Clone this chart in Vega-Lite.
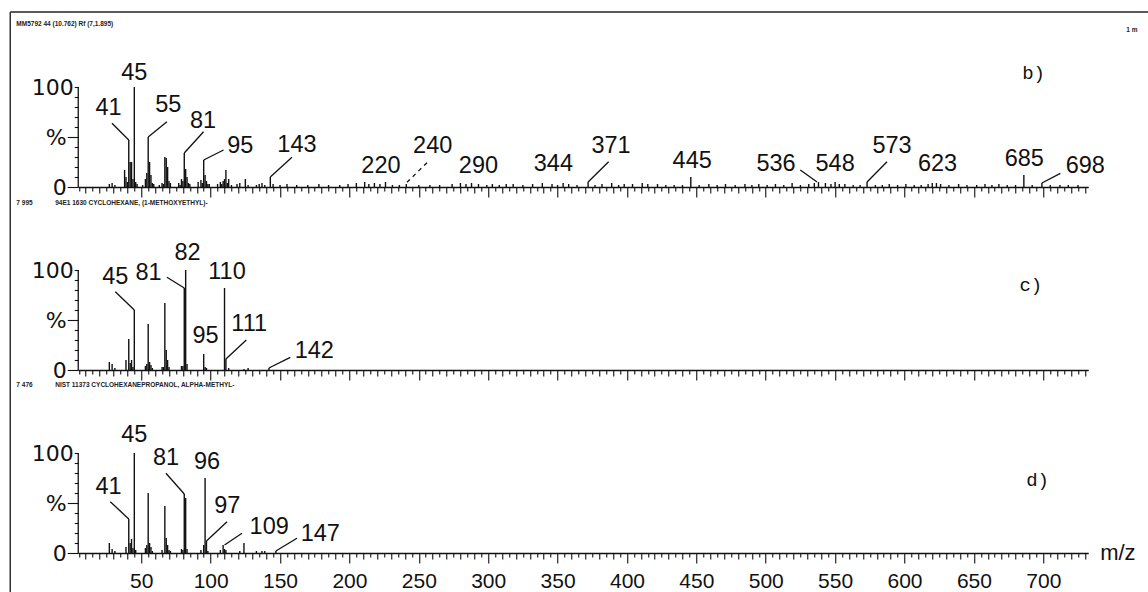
{
"$schema": "https://vega.github.io/schema/vega-lite/v6.json",
"background": "white",
"padding": {"left": 9.25, "top": 4, "right": 0, "bottom": 0},
"spacing": 0,
"bounds": "flush",
"config": {"view": {"stroke": null}, "font": "Liberation Sans"},
"datasets": {
"peaks": [
{"p":"b","x":27,"y":3},{"p":"b","x":29,"y":4},{"p":"b","x":31,"y":2},{"p":"b","x":38,"y":17},{"p":"b","x":39,"y":10},{"p":"b","x":40,"y":5},{"p":"b","x":41,"y":47},{"p":"b","x":42,"y":25},{"p":"b","x":43,"y":25},{"p":"b","x":44,"y":8},{"p":"b","x":45,"y":100},{"p":"b","x":46,"y":5},{"p":"b","x":47,"y":3},{"p":"b","x":51,"y":2},{"p":"b","x":53,"y":8},{"p":"b","x":54,"y":14},{"p":"b","x":55,"y":50},{"p":"b","x":56,"y":25},{"p":"b","x":57,"y":12},{"p":"b","x":58,"y":4},{"p":"b","x":59,"y":3},{"p":"b","x":63,"y":2},{"p":"b","x":65,"y":4},{"p":"b","x":66,"y":3},{"p":"b","x":67,"y":30},{"p":"b","x":68,"y":29},{"p":"b","x":69,"y":20},{"p":"b","x":70,"y":6},{"p":"b","x":71,"y":4},{"p":"b","x":77,"y":4},{"p":"b","x":78,"y":2},{"p":"b","x":79,"y":8},{"p":"b","x":80,"y":6},{"p":"b","x":81,"y":34},{"p":"b","x":82,"y":18},{"p":"b","x":83,"y":10},{"p":"b","x":84,"y":4},{"p":"b","x":85,"y":3},{"p":"b","x":91,"y":5},{"p":"b","x":93,"y":7},{"p":"b","x":94,"y":4},{"p":"b","x":95,"y":27},{"p":"b","x":96,"y":12},{"p":"b","x":97,"y":6},{"p":"b","x":98,"y":3},{"p":"b","x":99,"y":3},{"p":"b","x":105,"y":3},{"p":"b","x":107,"y":5},{"p":"b","x":108,"y":3},{"p":"b","x":109,"y":6},{"p":"b","x":110,"y":8},{"p":"b","x":111,"y":17},{"p":"b","x":112,"y":4},{"p":"b","x":113,"y":8},{"p":"b","x":115,"y":2},{"p":"b","x":119,"y":3},{"p":"b","x":121,"y":4},{"p":"b","x":125,"y":8},{"p":"b","x":127,"y":2},{"p":"b","x":133,"y":2},{"p":"b","x":135,"y":3},{"p":"b","x":137,"y":4},{"p":"b","x":139,"y":2},{"p":"b","x":143,"y":10},{"p":"b","x":145,"y":3},
{"p":"b","x":150,"y":2},{"p":"b","x":155,"y":3},{"p":"b","x":162,"y":2},{"p":"b","x":170,"y":2},{"p":"b","x":178,"y":3},{"p":"b","x":185,"y":2},{"p":"b","x":193,"y":2},{"p":"b","x":199,"y":3},{"p":"b","x":205,"y":4},{"p":"b","x":211,"y":5},{"p":"b","x":214,"y":3},{"p":"b","x":218,"y":4},{"p":"b","x":222,"y":3},{"p":"b","x":226,"y":5},{"p":"b","x":231,"y":2},{"p":"b","x":236,"y":2},{"p":"b","x":241,"y":3},{"p":"b","x":250,"y":2},{"p":"b","x":258,"y":2},{"p":"b","x":265,"y":2},{"p":"b","x":274,"y":3},{"p":"b","x":280,"y":4},{"p":"b","x":284,"y":3},{"p":"b","x":288,"y":4},{"p":"b","x":293,"y":3},{"p":"b","x":299,"y":2},{"p":"b","x":303,"y":3},{"p":"b","x":308,"y":2},{"p":"b","x":313,"y":3},{"p":"b","x":318,"y":3},{"p":"b","x":325,"y":2},{"p":"b","x":332,"y":3},{"p":"b","x":339,"y":4},{"p":"b","x":346,"y":3},{"p":"b","x":350,"y":2},{"p":"b","x":354,"y":4},{"p":"b","x":358,"y":3},{"p":"b","x":364,"y":2},{"p":"b","x":372,"y":5},{"p":"b","x":377,"y":2},{"p":"b","x":382,"y":3},{"p":"b","x":389,"y":4},{"p":"b","x":394,"y":2},{"p":"b","x":398,"y":3},{"p":"b","x":404,"y":3},{"p":"b","x":411,"y":4},{"p":"b","x":415,"y":3},{"p":"b","x":422,"y":3},{"p":"b","x":428,"y":2},{"p":"b","x":434,"y":2},{"p":"b","x":440,"y":2},{"p":"b","x":446,"y":10},{"p":"b","x":452,"y":2},{"p":"b","x":459,"y":3},{"p":"b","x":465,"y":2},{"p":"b","x":471,"y":3},{"p":"b","x":478,"y":2},{"p":"b","x":485,"y":3},{"p":"b","x":490,"y":2},{"p":"b","x":495,"y":3},{"p":"b","x":501,"y":2},{"p":"b","x":507,"y":3},{"p":"b","x":513,"y":2},{"p":"b","x":519,"y":4},{"p":"b","x":525,"y":2},{"p":"b","x":531,"y":3},{"p":"b","x":535,"y":4},{"p":"b","x":538,"y":5},{"p":"b","x":543,"y":4},{"p":"b","x":547,"y":3},{"p":"b","x":550,"y":5},{"p":"b","x":553,"y":3},{"p":"b","x":557,"y":3},{"p":"b","x":563,"y":2},{"p":"b","x":568,"y":2},{"p":"b","x":573,"y":5},{"p":"b","x":579,"y":2},{"p":"b","x":584,"y":2},{"p":"b","x":589,"y":3},{"p":"b","x":595,"y":2},{"p":"b","x":601,"y":3},{"p":"b","x":607,"y":2},{"p":"b","x":612,"y":2},{"p":"b","x":617,"y":3},{"p":"b","x":620,"y":4},{"p":"b","x":623,"y":4},{"p":"b","x":626,"y":3},{"p":"b","x":632,"y":2},{"p":"b","x":639,"y":3},{"p":"b","x":645,"y":2},{"p":"b","x":652,"y":2},{"p":"b","x":658,"y":3},{"p":"b","x":663,"y":2},{"p":"b","x":668,"y":3},{"p":"b","x":674,"y":2},{"p":"b","x":680,"y":2},{"p":"b","x":686,"y":12},{"p":"b","x":692,"y":2},{"p":"b","x":699,"y":4},{"p":"b","x":705,"y":2},{"p":"b","x":712,"y":2},{"p":"b","x":718,"y":2},{"p":"b","x":725,"y":2},
{"p":"c","x":27,"y":8},{"p":"c","x":29,"y":6},{"p":"c","x":31,"y":2},{"p":"c","x":39,"y":10},{"p":"c","x":41,"y":31},{"p":"c","x":42,"y":7},{"p":"c","x":43,"y":10},{"p":"c","x":44,"y":3},{"p":"c","x":45,"y":60},{"p":"c","x":53,"y":4},{"p":"c","x":54,"y":6},{"p":"c","x":55,"y":46},{"p":"c","x":56,"y":8},{"p":"c","x":57,"y":5},{"p":"c","x":58,"y":2},{"p":"c","x":65,"y":3},{"p":"c","x":66,"y":3},{"p":"c","x":67,"y":67},{"p":"c","x":68,"y":20},{"p":"c","x":69,"y":10},{"p":"c","x":70,"y":3},{"p":"c","x":79,"y":4},{"p":"c","x":80,"y":4},{"p":"c","x":81,"y":82},{"p":"c","x":82,"y":100},{"p":"c","x":83,"y":6},{"p":"c","x":95,"y":16},{"p":"c","x":96,"y":3},{"p":"c","x":97,"y":2},{"p":"c","x":110,"y":82},{"p":"c","x":111,"y":11},{"p":"c","x":113,"y":2},{"p":"c","x":124,"y":1},{"p":"c","x":127,"y":2},{"p":"c","x":142,"y":2},
{"p":"d","x":27,"y":10},{"p":"d","x":29,"y":4},{"p":"d","x":31,"y":2},{"p":"d","x":39,"y":6},{"p":"d","x":41,"y":34},{"p":"d","x":42,"y":10},{"p":"d","x":43,"y":14},{"p":"d","x":44,"y":5},{"p":"d","x":45,"y":100},{"p":"d","x":46,"y":3},{"p":"d","x":53,"y":5},{"p":"d","x":54,"y":8},{"p":"d","x":55,"y":60},{"p":"d","x":56,"y":10},{"p":"d","x":57,"y":6},{"p":"d","x":58,"y":2},{"p":"d","x":65,"y":3},{"p":"d","x":67,"y":47},{"p":"d","x":68,"y":15},{"p":"d","x":69,"y":8},{"p":"d","x":70,"y":3},{"p":"d","x":71,"y":2},{"p":"d","x":79,"y":4},{"p":"d","x":80,"y":3},{"p":"d","x":81,"y":59},{"p":"d","x":82,"y":55},{"p":"d","x":83,"y":4},{"p":"d","x":93,"y":3},{"p":"d","x":95,"y":8},{"p":"d","x":96,"y":75},{"p":"d","x":97,"y":12},{"p":"d","x":98,"y":2},{"p":"d","x":107,"y":3},{"p":"d","x":109,"y":8},{"p":"d","x":110,"y":4},{"p":"d","x":111,"y":3},{"p":"d","x":121,"y":2},{"p":"d","x":124,"y":10},{"p":"d","x":133,"y":2},{"p":"d","x":137,"y":2},{"p":"d","x":139,"y":2},{"p":"d","x":147,"y":2}
],
"labels": [
{"p":"b","x":45,"y":113.7,"t":"45"},{"p":"b","x":26.4,"y":78.7,"t":"41"},{"p":"b","x":69.5,"y":82,"t":"55"},{"p":"b","x":94.5,"y":66.3,"t":"81"},{"p":"b","x":121.4,"y":41.3,"t":"95"},{"p":"b","x":162.2,"y":42,"t":"143"},{"p":"b","x":222.7,"y":21.3,"t":"220"},{"p":"b","x":260,"y":41.3,"t":"240"},{"p":"b","x":293,"y":21.3,"t":"290"},{"p":"b","x":347,"y":23,"t":"344"},{"p":"b","x":388.5,"y":41.3,"t":"371"},{"p":"b","x":447,"y":26.3,"t":"445"},{"p":"b","x":507.4,"y":23,"t":"536"},{"p":"b","x":550,"y":23,"t":"548"},{"p":"b","x":591,"y":41.3,"t":"573"},{"p":"b","x":623.8,"y":23,"t":"623"},{"p":"b","x":686.3,"y":28,"t":"685"},{"p":"b","x":730.3,"y":21.3,"t":"698"},
{"p":"c","x":31.3,"y":93.3,"t":"45"},{"p":"c","x":55.3,"y":96.7,"t":"81"},{"p":"c","x":83.4,"y":116.7,"t":"82"},{"p":"c","x":111.8,"y":97.7,"t":"110"},{"p":"c","x":96.3,"y":34.3,"t":"95"},{"p":"c","x":127.8,"y":46,"t":"111"},{"p":"c","x":174.7,"y":19.3,"t":"142"},
{"p":"d","x":45,"y":117.7,"t":"45"},{"p":"d","x":26.4,"y":66,"t":"41"},{"p":"d","x":67.8,"y":94.7,"t":"81"},{"p":"d","x":97.4,"y":91.3,"t":"96"},{"p":"d","x":112,"y":47.3,"t":"97"},{"p":"d","x":142.2,"y":25.7,"t":"109"},{"p":"d","x":179,"y":19,"t":"147"}
],
"leaders": [
{"p":"b","t":"41","x":28.9,"y":63.7,"x2":41,"y2":47},{"p":"b","t":"55","x":68.5,"y":65.3,"x2":55,"y2":50},{"p":"b","t":"81","x":94.9,"y":55.3,"x2":81,"y2":34},{"p":"b","t":"95","x":109.3,"y":37,"x2":95,"y2":27},{"p":"b","t":"143","x":158.6,"y":29.7,"x2":143,"y2":10},{"p":"b","t":"240","x":255.9,"y":24.3,"x2":241,"y2":4},{"p":"b","t":"371","x":386.8,"y":25.3,"x2":372,"y2":5},{"p":"b","t":"536","x":524.9,"y":17,"x2":537,"y2":5},{"p":"b","t":"573","x":587.4,"y":25.3,"x2":573,"y2":5},{"p":"b","t":"698","x":712.3,"y":13.7,"x2":699,"y2":4},
{"p":"c","t":"45","x":31.3,"y":78.3,"x2":45,"y2":60},{"p":"c","t":"81","x":68.5,"y":92.7,"x2":81,"y2":82},{"p":"c","t":"111","x":125.7,"y":30,"x2":111,"y2":11},{"p":"c","t":"142","x":157.4,"y":12.7,"x2":142,"y2":2},
{"p":"d","t":"41","x":27.7,"y":51.3,"x2":41,"y2":34},{"p":"d","t":"81","x":67.8,"y":79.7,"x2":81,"y2":59},{"p":"d","t":"97","x":111.8,"y":31.3,"x2":97,"y2":12},{"p":"d","t":"109","x":122.6,"y":19.7,"x2":110,"y2":8},{"p":"d","t":"147","x":162.2,"y":14.7,"x2":147,"y2":2}
],
"headers": [
{"p":"b","x":-40,"y":163,"t":"MM5792 44 (10.762) Rf (7,1.895)"},{"p":"b","x":759.8,"y":157,"t":"1 m"},
{"p":"c","x":-40,"y":167,"t":"7 995"},{"p":"c","x":-12,"y":167,"t":"94E1 1630 CYCLOHEXANE, (1-METHOXYETHYL)-"},
{"p":"d","x":-40,"y":168,"t":"7 476"},{"p":"d","x":-12,"y":168,"t":"NIST 11373 CYCLOHEXANEPROPANOL, ALPHA-METHYL-"}
],
"tags": [
{"p":"b","x":693,"y":113.7,"t":"b)"},{"p":"c","x":691,"y":85,"t":"c)"},{"p":"d","x":695.9,"y":73,"t":"d)"}
]
},
"vconcat": [
{
"width": 1010, "height": 183,
"resolve": {"axis": {"x": "independent", "y": "independent"}},
"layer": [
{"data": {"name": "peaks"}, "transform": [{"filter": "datum.p == 'b'"}],
 "mark": {"type": "rule", "color": "#111", "strokeWidth": 1.4},
 "encoding": {
  "x": {"field": "x", "type": "quantitative", "scale": {"domain": [4.6, 732.4], "nice": false, "zero": false},
   "axis": {"orient": "bottom", "values": [5,10,15,20,25,30,35,40,45,50,55,60,65,70,75,80,85,90,95,100,105,110,115,120,125,130,135,140,145,150,155,160,165,170,175,180,185,190,195,200,205,210,215,220,225,230,235,240,245,250,255,260,265,270,275,280,285,290,295,300,305,310,315,320,325,330,335,340,345,350,355,360,365,370,375,380,385,390,395,400,405,410,415,420,425,430,435,440,445,450,455,460,465,470,475,480,485,490,495,500,505,510,515,520,525,530,535,540,545,550,555,560,565,570,575,580,585,590,595,600,605,610,615,620,625,630,635,640,645,650,655,660,665,670,675,680,685,690,695,700,705,710,715,720,725,730],
    "labels": false, "title": null, "grid": false, "domainColor": "#111", "domainWidth": 1.3, "tickColor": "#111", "tickWidth": 1.1,
    "tickSize": {"condition": [{"test": "datum.value % 50 == 0", "value": 10}, {"test": "datum.value % 10 == 0", "value": 6}], "value": 4}}},
  "y": {"field": "y", "type": "quantitative", "scale": {"domain": [0, 183], "nice": false, "zero": false}, "axis": null},
  "y2": {"datum": 0}
 }},
{"data": {"values": [{}]},
 "mark": {"type": "rule", "color": "#111", "strokeWidth": 1.3},
 "encoding": {
  "x": {"datum": 4.6, "type": "quantitative", "scale": {"domain": [4.6, 732.4], "nice": false, "zero": false}, "axis": null},
  "y": {"datum": 0, "type": "quantitative", "scale": {"domain": [0, 183], "nice": false, "zero": false},
   "axis": {"orient": "left", "values": [0,10,20,30,40,50,60,70,80,90,100], "domain": false, "grid": false, "title": null,
    "labelExpr": "datum.value == 50 ? '%' : (datum.value == 0 || datum.value == 100) ? datum.label : ''",
    "labelFont": "DejaVu Sans", "labelFontSize": 22, "labelColor": "#111", "labelPadding": 1, "labelOverlap": false, "labelFlush": false,
    "tickColor": "#111", "tickWidth": 1.1,
    "tickSize": {"condition": {"test": "datum.value == 0 || datum.value == 50", "value": 11}, "value": 4}}},
  "y2": {"datum": 100}
 }},
{"data": {"values": [{}]},
 "mark": {"type": "rule", "color": "#222", "strokeWidth": 1.5, "clip": false},
 "encoding": {
  "x": {"datum": -44.4, "type": "quantitative", "scale": {"domain": [4.6, 732.4], "nice": false, "zero": false}, "axis": null},
  "x2": {"datum": 800},
  "y": {"datum": 175, "type": "quantitative", "scale": {"domain": [0, 183], "nice": false, "zero": false}, "axis": null}
 }},
{"data": {"values": [{}]},
 "mark": {"type": "rule", "color": "#333", "strokeWidth": 1.5, "clip": false},
 "encoding": {
  "x": {"datum": -44.4, "type": "quantitative", "scale": {"domain": [4.6, 732.4], "nice": false, "zero": false}, "axis": null},
  "y": {"datum": 175, "type": "quantitative", "scale": {"domain": [0, 183], "nice": false, "zero": false}, "axis": null},
  "y2": {"datum": 0}
 }},
{"data": {"name": "leaders"}, "transform": [{"filter": "datum.p == 'b' && datum.t != '240'"}],
 "mark": {"type": "rule", "color": "#111", "strokeWidth": 1.3},
 "encoding": {
  "x": {"field": "x", "type": "quantitative", "scale": {"domain": [4.6, 732.4], "nice": false, "zero": false}, "axis": null},
  "x2": {"field": "x2"},
  "y": {"field": "y", "type": "quantitative", "scale": {"domain": [0, 183], "nice": false, "zero": false}, "axis": null},
  "y2": {"field": "y2"}
 }},
{"data": {"name": "leaders"}, "transform": [{"filter": "datum.p == 'b' && datum.t == '240'"}],
 "mark": {"type": "rule", "color": "#111", "strokeWidth": 1.3, "strokeDash": [4, 4]},
 "encoding": {
  "x": {"field": "x", "type": "quantitative", "scale": {"domain": [4.6, 732.4], "nice": false, "zero": false}, "axis": null},
  "x2": {"field": "x2"},
  "y": {"field": "y", "type": "quantitative", "scale": {"domain": [0, 183], "nice": false, "zero": false}, "axis": null},
  "y2": {"field": "y2"}
 }},
{"data": {"name": "labels"}, "transform": [{"filter": "datum.p == 'b'"}],
 "mark": {"type": "text", "font": "Liberation Sans", "fontSize": 23.5, "color": "#111", "align": "center", "baseline": "middle"},
 "encoding": {
  "x": {"field": "x", "type": "quantitative", "scale": {"domain": [4.6, 732.4], "nice": false, "zero": false}, "axis": null},
  "y": {"field": "y", "type": "quantitative", "scale": {"domain": [0, 183], "nice": false, "zero": false}, "axis": null},
  "text": {"field": "t"}
 }},
{"data": {"name": "headers"}, "transform": [{"filter": "datum.p == 'b'"}],
 "mark": {"type": "text", "font": "Liberation Sans", "fontSize": 6.5, "fontWeight": "bold", "color": "#222", "align": "left", "baseline": "middle", "clip": false},
 "encoding": {
  "x": {"field": "x", "type": "quantitative", "scale": {"domain": [4.6, 732.4], "nice": false, "zero": false}, "axis": null},
  "y": {"field": "y", "type": "quantitative", "scale": {"domain": [0, 183], "nice": false, "zero": false}, "axis": null},
  "text": {"field": "t"}
 }},
{"data": {"name": "tags"}, "transform": [{"filter": "datum.p == 'b'"}],
 "mark": {"type": "text", "font": "Liberation Mono", "fontSize": 19, "color": "#111", "align": "center", "baseline": "middle"},
 "encoding": {
  "x": {"field": "x", "type": "quantitative", "scale": {"domain": [4.6, 732.4], "nice": false, "zero": false}, "axis": null},
  "y": {"field": "y", "type": "quantitative", "scale": {"domain": [0, 183], "nice": false, "zero": false}, "axis": null},
  "text": {"field": "t"}
 }}
]
},
{
"width": 1010, "height": 183,
"resolve": {"axis": {"x": "independent", "y": "independent"}},
"layer": [
{"data": {"name": "peaks"}, "transform": [{"filter": "datum.p == 'c'"}],
 "mark": {"type": "rule", "color": "#111", "strokeWidth": 1.4},
 "encoding": {
  "x": {"field": "x", "type": "quantitative", "scale": {"domain": [4.6, 732.4], "nice": false, "zero": false},
   "axis": {"orient": "bottom", "values": [5,10,15,20,25,30,35,40,45,50,55,60,65,70,75,80,85,90,95,100,105,110,115,120,125,130,135,140,145,150,155,160,165,170,175,180,185,190,195,200,205,210,215,220,225,230,235,240,245,250,255,260,265,270,275,280,285,290,295,300,305,310,315,320,325,330,335,340,345,350,355,360,365,370,375,380,385,390,395,400,405,410,415,420,425,430,435,440,445,450,455,460,465,470,475,480,485,490,495,500,505,510,515,520,525,530,535,540,545,550,555,560,565,570,575,580,585,590,595,600,605,610,615,620,625,630,635,640,645,650,655,660,665,670,675,680,685,690,695,700,705,710,715,720,725,730],
    "labels": false, "title": null, "grid": false, "domainColor": "#111", "domainWidth": 1.3, "tickColor": "#111", "tickWidth": 1.1,
    "tickSize": {"condition": [{"test": "datum.value % 50 == 0", "value": 10}, {"test": "datum.value % 10 == 0", "value": 6}], "value": 4}}},
  "y": {"field": "y", "type": "quantitative", "scale": {"domain": [0, 183], "nice": false, "zero": false}, "axis": null},
  "y2": {"datum": 0}
 }},
{"data": {"values": [{}]},
 "mark": {"type": "rule", "color": "#111", "strokeWidth": 1.3},
 "encoding": {
  "x": {"datum": 4.6, "type": "quantitative", "scale": {"domain": [4.6, 732.4], "nice": false, "zero": false}, "axis": null},
  "y": {"datum": 0, "type": "quantitative", "scale": {"domain": [0, 183], "nice": false, "zero": false},
   "axis": {"orient": "left", "values": [0,10,20,30,40,50,60,70,80,90,100], "domain": false, "grid": false, "title": null,
    "labelExpr": "datum.value == 50 ? '%' : (datum.value == 0 || datum.value == 100) ? datum.label : ''",
    "labelFont": "DejaVu Sans", "labelFontSize": 22, "labelColor": "#111", "labelPadding": 1, "labelOverlap": false, "labelFlush": false,
    "tickColor": "#111", "tickWidth": 1.1,
    "tickSize": {"condition": {"test": "datum.value == 0 || datum.value == 50", "value": 11}, "value": 4}}},
  "y2": {"datum": 100}
 }},
{"data": {"values": [{}]},
 "mark": {"type": "rule", "color": "#333", "strokeWidth": 1.5, "clip": false},
 "encoding": {
  "x": {"datum": -44.4, "type": "quantitative", "scale": {"domain": [4.6, 732.4], "nice": false, "zero": false}, "axis": null},
  "y": {"datum": 183, "type": "quantitative", "scale": {"domain": [0, 183], "nice": false, "zero": false}, "axis": null},
  "y2": {"datum": 0}
 }},
{"data": {"name": "leaders"}, "transform": [{"filter": "datum.p == 'c'"}],
 "mark": {"type": "rule", "color": "#111", "strokeWidth": 1.3},
 "encoding": {
  "x": {"field": "x", "type": "quantitative", "scale": {"domain": [4.6, 732.4], "nice": false, "zero": false}, "axis": null},
  "x2": {"field": "x2"},
  "y": {"field": "y", "type": "quantitative", "scale": {"domain": [0, 183], "nice": false, "zero": false}, "axis": null},
  "y2": {"field": "y2"}
 }},
{"data": {"name": "labels"}, "transform": [{"filter": "datum.p == 'c'"}],
 "mark": {"type": "text", "font": "Liberation Sans", "fontSize": 23.5, "color": "#111", "align": "center", "baseline": "middle"},
 "encoding": {
  "x": {"field": "x", "type": "quantitative", "scale": {"domain": [4.6, 732.4], "nice": false, "zero": false}, "axis": null},
  "y": {"field": "y", "type": "quantitative", "scale": {"domain": [0, 183], "nice": false, "zero": false}, "axis": null},
  "text": {"field": "t"}
 }},
{"data": {"name": "headers"}, "transform": [{"filter": "datum.p == 'c'"}],
 "mark": {"type": "text", "font": "Liberation Sans", "fontSize": 6.5, "fontWeight": "bold", "color": "#222", "align": "left", "baseline": "middle", "clip": false},
 "encoding": {
  "x": {"field": "x", "type": "quantitative", "scale": {"domain": [4.6, 732.4], "nice": false, "zero": false}, "axis": null},
  "y": {"field": "y", "type": "quantitative", "scale": {"domain": [0, 183], "nice": false, "zero": false}, "axis": null},
  "text": {"field": "t"}
 }},
{"data": {"name": "tags"}, "transform": [{"filter": "datum.p == 'c'"}],
 "mark": {"type": "text", "font": "Liberation Mono", "fontSize": 19, "color": "#111", "align": "center", "baseline": "middle"},
 "encoding": {
  "x": {"field": "x", "type": "quantitative", "scale": {"domain": [4.6, 732.4], "nice": false, "zero": false}, "axis": null},
  "y": {"field": "y", "type": "quantitative", "scale": {"domain": [0, 183], "nice": false, "zero": false}, "axis": null},
  "text": {"field": "t"}
 }}
]
},
{
"width": 1010, "height": 183,
"resolve": {"axis": {"x": "independent", "y": "independent"}},
"layer": [
{"data": {"name": "peaks"}, "transform": [{"filter": "datum.p == 'd'"}],
 "mark": {"type": "rule", "color": "#111", "strokeWidth": 1.4},
 "encoding": {
  "x": {"field": "x", "type": "quantitative", "scale": {"domain": [4.6, 732.4], "nice": false, "zero": false},
   "axis": {"orient": "bottom", "values": [5,10,15,20,25,30,35,40,45,50,55,60,65,70,75,80,85,90,95,100,105,110,115,120,125,130,135,140,145,150,155,160,165,170,175,180,185,190,195,200,205,210,215,220,225,230,235,240,245,250,255,260,265,270,275,280,285,290,295,300,305,310,315,320,325,330,335,340,345,350,355,360,365,370,375,380,385,390,395,400,405,410,415,420,425,430,435,440,445,450,455,460,465,470,475,480,485,490,495,500,505,510,515,520,525,530,535,540,545,550,555,560,565,570,575,580,585,590,595,600,605,610,615,620,625,630,635,640,645,650,655,660,665,670,675,680,685,690,695,700,705,710,715,720,725,730],
    "labelExpr": "datum.value % 50 == 0 ? datum.label : ''", "labelFont": "Liberation Sans", "labelFontSize": 21, "labelColor": "#111", "labelPadding": 7, "labelOverlap": false, "labelFlush": false, "labelBound": false,
    "title": null, "grid": false, "domainColor": "#111", "domainWidth": 1.3, "tickColor": "#111", "tickWidth": 1.1,
    "tickSize": {"condition": [{"test": "datum.value % 50 == 0", "value": 10}, {"test": "datum.value % 10 == 0", "value": 6}], "value": 4}}},
  "y": {"field": "y", "type": "quantitative", "scale": {"domain": [0, 183], "nice": false, "zero": false}, "axis": null},
  "y2": {"datum": 0}
 }},
{"data": {"values": [{}]},
 "mark": {"type": "rule", "color": "#111", "strokeWidth": 1.3},
 "encoding": {
  "x": {"datum": 4.6, "type": "quantitative", "scale": {"domain": [4.6, 732.4], "nice": false, "zero": false}, "axis": null},
  "y": {"datum": 0, "type": "quantitative", "scale": {"domain": [0, 183], "nice": false, "zero": false},
   "axis": {"orient": "left", "values": [0,10,20,30,40,50,60,70,80,90,100], "domain": false, "grid": false, "title": null,
    "labelExpr": "datum.value == 50 ? '%' : (datum.value == 0 || datum.value == 100) ? datum.label : ''",
    "labelFont": "DejaVu Sans", "labelFontSize": 22, "labelColor": "#111", "labelPadding": 1, "labelOverlap": false, "labelFlush": false,
    "tickColor": "#111", "tickWidth": 1.1,
    "tickSize": {"condition": {"test": "datum.value == 0 || datum.value == 50", "value": 11}, "value": 4}}},
  "y2": {"datum": 100}
 }},
{"data": {"values": [{}]},
 "mark": {"type": "rule", "color": "#333", "strokeWidth": 1.5, "clip": false},
 "encoding": {
  "x": {"datum": -44.4, "type": "quantitative", "scale": {"domain": [4.6, 732.4], "nice": false, "zero": false}, "axis": null},
  "y": {"datum": 183, "type": "quantitative", "scale": {"domain": [0, 183], "nice": false, "zero": false}, "axis": null},
  "y2": {"datum": -39}
 }},
{"data": {"name": "leaders"}, "transform": [{"filter": "datum.p == 'd'"}],
 "mark": {"type": "rule", "color": "#111", "strokeWidth": 1.3},
 "encoding": {
  "x": {"field": "x", "type": "quantitative", "scale": {"domain": [4.6, 732.4], "nice": false, "zero": false}, "axis": null},
  "x2": {"field": "x2"},
  "y": {"field": "y", "type": "quantitative", "scale": {"domain": [0, 183], "nice": false, "zero": false}, "axis": null},
  "y2": {"field": "y2"}
 }},
{"data": {"name": "labels"}, "transform": [{"filter": "datum.p == 'd'"}],
 "mark": {"type": "text", "font": "Liberation Sans", "fontSize": 23.5, "color": "#111", "align": "center", "baseline": "middle"},
 "encoding": {
  "x": {"field": "x", "type": "quantitative", "scale": {"domain": [4.6, 732.4], "nice": false, "zero": false}, "axis": null},
  "y": {"field": "y", "type": "quantitative", "scale": {"domain": [0, 183], "nice": false, "zero": false}, "axis": null},
  "text": {"field": "t"}
 }},
{"data": {"name": "headers"}, "transform": [{"filter": "datum.p == 'd'"}],
 "mark": {"type": "text", "font": "Liberation Sans", "fontSize": 6.5, "fontWeight": "bold", "color": "#222", "align": "left", "baseline": "middle", "clip": false},
 "encoding": {
  "x": {"field": "x", "type": "quantitative", "scale": {"domain": [4.6, 732.4], "nice": false, "zero": false}, "axis": null},
  "y": {"field": "y", "type": "quantitative", "scale": {"domain": [0, 183], "nice": false, "zero": false}, "axis": null},
  "text": {"field": "t"}
 }},
{"data": {"name": "tags"}, "transform": [{"filter": "datum.p == 'd'"}],
 "mark": {"type": "text", "font": "Liberation Mono", "fontSize": 19, "color": "#111", "align": "center", "baseline": "middle"},
 "encoding": {
  "x": {"field": "x", "type": "quantitative", "scale": {"domain": [4.6, 732.4], "nice": false, "zero": false}, "axis": null},
  "y": {"field": "y", "type": "quantitative", "scale": {"domain": [0, 183], "nice": false, "zero": false}, "axis": null},
  "text": {"field": "t"}
 }},
{"data": {"values": [{"t": "m/z"}]},
 "mark": {"type": "text", "font": "Liberation Sans", "fontSize": 22, "color": "#111", "align": "left", "baseline": "middle", "clip": false},
 "encoding": {
  "x": {"datum": 741, "type": "quantitative", "scale": {"domain": [4.6, 732.4], "nice": false, "zero": false}, "axis": null},
  "y": {"datum": 0, "type": "quantitative", "scale": {"domain": [0, 183], "nice": false, "zero": false}, "axis": null},
  "text": {"field": "t"}
 }}
]
}
]
}
